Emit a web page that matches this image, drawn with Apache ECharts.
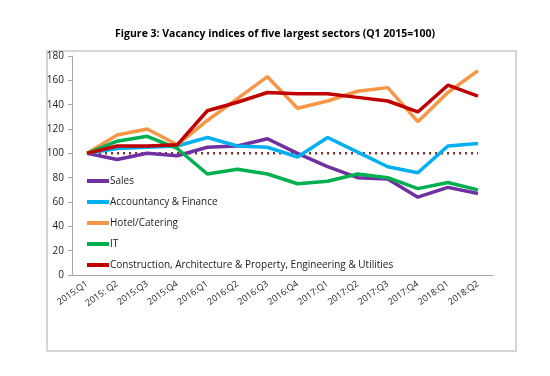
<!DOCTYPE html>
<html>
<head>
<meta charset="utf-8">
<script src="https://cdn.jsdelivr.net/npm/echarts@6/dist/echarts.min.js"></script>
<style>
  html, body { margin: 0; padding: 0; background: #fff; }
  #chart { width: 550px; height: 376px; }
</style>
</head>
<body>
<div id="chart"></div>
<script>
const quarters = ['2015:Q1', '2015: Q2', '2015:Q3', '2015:Q4', '2016:Q1', '2016:Q2', '2016:Q3',
    '2016:Q4', '2017:Q1', '2017:Q2', '2017:Q3', '2017:Q4', '2018:Q1', '2018:Q2'];
const sales = [100, 95, 100, 98, 105, 106, 112, 100, 89, 80, 79, 64, 72, 67];
const accountancy = [100, 104, 105, 106, 113, 106, 105, 97, 113, 101, 89, 84, 106, 108];
const hotel = [100, 115, 120, 107, 127, 145, 163, 137, 143, 151, 154, 126, 150, 168];
const it = [100, 110, 114, 104, 83, 87, 83, 75, 77, 83, 80, 71, 76, 70];
const construction = [100, 106, 106, 107, 135, 142, 150, 149, 149, 146, 143, 134, 156, 147];
const baseline = quarters.map(() => 100);

const chart = echarts.init(document.getElementById('chart'));

const line = (name, data, color) => ({
    name: name,
    type: 'line',
    data: data,
    symbol: 'none',
    lineStyle: {width: 3.5, color: color},
    itemStyle: {color: color}
});

chart.setOption({
    animation: false,
    textStyle: {fontFamily: 'Open Sans'},
    title: {
        text: 'Figure 3: Vacancy indices of five largest sectors (Q1 2015=100)',
        left: 'center',
        top: 24,
        textStyle: {fontSize: 10.5, fontWeight: 'bold', color: '#000', fontFamily: 'Open Sans'}
    },
    graphic: [{
        type: 'rect',
        shape: {x: 47, y: 51, width: 469, height: 300},
        style: {fill: 'none', stroke: '#c8c8c8', lineWidth: 1.5},
        silent: true,
        z: -1
    }],
    grid: {left: 72, right: 57, top: 56, bottom: 101},
    legend: {
        orient: 'vertical',
        left: 82,
        top: 171,
        itemGap: 11,
        itemWidth: 22,
        itemHeight: 4,
        icon: 'rect',
        textStyle: {fontSize: 10, color: '#222', padding: [0, 0, 0, -4]},
        data: ['Sales', 'Accountancy & Finance', 'Hotel/Catering', 'IT',
            'Construction, Architecture & Property, Engineering & Utilities']
    },
    xAxis: {
        type: 'category',
        data: quarters,
        boundaryGap: true,
        axisLine: {lineStyle: {color: '#a6a6a6', width: 1}},
        axisTick: {alignWithLabel: true, length: 4, lineStyle: {color: '#a6a6a6'}},
        axisLabel: {rotate: 35, fontSize: 9, color: '#222', margin: 8}
    },
    yAxis: {
        type: 'value',
        min: 0,
        max: 180,
        interval: 20,
        splitLine: {show: false},
        axisLine: {show: true, lineStyle: {color: '#a6a6a6', width: 1}},
        axisTick: {show: true, length: 4, lineStyle: {color: '#a6a6a6'}},
        axisLabel: {fontSize: 10, color: '#222', margin: 8}
    },
    series: [
        {
            name: 'Base',
            type: 'line',
            data: baseline,
            symbol: 'none',
            lineStyle: {width: 2.5, color: '#8b2a2a', type: [2, 4]},
            z: 1
        },
        line('Sales', sales, '#7030a0'),
        line('Accountancy & Finance', accountancy, '#00b0f0'),
        line('Hotel/Catering', hotel, '#f79646'),
        line('IT', it, '#00b050'),
        line('Construction, Architecture & Property, Engineering & Utilities', construction, '#c00000')
    ]
});
</script>
</body>
</html>
